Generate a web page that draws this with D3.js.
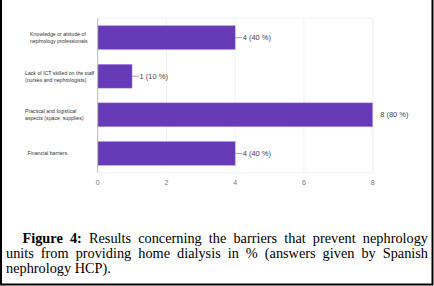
<!DOCTYPE html>
<html>
<head>
<meta charset="utf-8">
<script src="https://cdn.jsdelivr.net/npm/d3@7"></script>
<style>
  html, body { margin: 0; padding: 0; background: #fff; }
  #chart { width: 434px; height: 286px; }
</style>
</head>
<body>
<div id="chart"></div>
<script>
// categories (top to bottom), counts and percentages
const categories = [
  ["Knowledge or attitude of", "nephrology professionals"],
  ["Lack of ICT skilled on the staff", "(nurses and nephrologists)"],
  ["Practical and logistical", "aspects (space, supplies)"],
  ["Financial barriers"]
];
const counts = [4, 1, 8, 4];
const percents = [40, 10, 80, 40];
const ticks = [0, 2, 4, 6, 8];
const captionLines = [
  ["Figure 4:", " Results concerning the barriers that prevent nephrology"],
  ["", "units from providing home dialysis in % (answers given by Spanish"],
  ["", "nephrology HCP)."]
];

const W = 434, H = 286;
const svg = d3.select("#chart").append("svg")
  .attr("width", W).attr("height", H);

const x = d3.scaleLinear().domain([0, 8]).range([97.7, 372.7]);
const y = d3.scaleBand().domain(d3.range(categories.length))
  .range([18.3, 172.7]).paddingInner(0.38).paddingOuter(0.19);

const narrow = "'Liberation Sans Narrow', 'Arial Narrow', Arial, sans-serif";

// plot frame + grid
svg.append("rect")
  .attr("x", x(0)).attr("y", 18.3)
  .attr("width", x(8) - x(0)).attr("height", 172.7 - 18.3)
  .attr("fill", "none").attr("stroke", "#eef3f3").attr("stroke-width", 1);

svg.selectAll(".grid").data(ticks.slice(1)).join("line")
  .attr("x1", d => x(d)).attr("x2", d => x(d))
  .attr("y1", 18.3).attr("y2", 172.7)
  .attr("stroke", "#eef3f3").attr("stroke-width", 1);

// bars
svg.selectAll(".bar").data(counts).join("rect")
  .attr("x", x(0))
  .attr("y", (d, i) => y(i))
  .attr("width", d => x(d) - x(0))
  .attr("height", y.bandwidth())
  .attr("fill", "#673ab7")
  .attr("stroke", "#b9a3e0").attr("stroke-width", 0.5);

// zero axis line
svg.append("line")
  .attr("x1", x(0)).attr("x2", x(0))
  .attr("y1", 18.3).attr("y2", 172.7)
  .attr("stroke", "#bdbdbd").attr("stroke-width", 1);

// x tick labels
svg.selectAll(".tick").data(ticks).join("text")
  .attr("x", d => x(d)).attr("y", 185)
  .attr("text-anchor", "middle")
  .attr("font-family", narrow).attr("font-size", 7)
  .attr("fill", "#777")
  .text(d => d);

// value labels with leader lines
counts.forEach((d, i) => {
  const cy = y(i) + y.bandwidth() / 2;
  const long = d === 8;
  if (!long) {
    svg.append("line")
      .attr("x1", x(d)).attr("x2", x(d) + 7)
      .attr("y1", cy).attr("y2", cy)
      .attr("stroke", "#666").attr("stroke-width", 0.6);
  }
  svg.append("text")
    .attr("x", long ? x(d) + 7.5 : x(d) + 7.5)
    .attr("y", cy + 2.5)
    .attr("font-family", narrow).attr("font-size", 7.5)
    .attr("fill", "#444")
    .text(`${d} (${percents[i]} %)`);
});

// category labels
const labelX = [30, 25, 25, 27.5];
categories.forEach((lines, i) => {
  const cy = y(i) + y.bandwidth() / 2;
  const t = svg.append("text")
    .attr("font-family", "'Liberation Sans', Arial, sans-serif")
    .attr("font-size", 5.2).attr("fill", "#333");
  lines.forEach((s, j) => {
    t.append("tspan")
      .attr("x", labelX[i])
      .attr("y", cy + 2 + (j - (lines.length - 1) / 2) * 7)
      .text(s);
  });
});

// caption, justified
const capLeft = 6, capRight = 428;
const baseY = [243, 258, 273];
captionLines.forEach((parts, i) => {
  const startX = i === 0 ? 22.5 : capLeft;
  const t = svg.append("text")
    .attr("x", startX).attr("y", baseY[i])
    .attr("font-family", "'Liberation Serif', 'Times New Roman', serif")
    .attr("font-size", 14.3).attr("fill", "#000")
    .attr("xml:space", "preserve");
  if (parts[0]) t.append("tspan").attr("font-weight", "bold").text(parts[0]);
  t.append("tspan").text(parts[1]);
  if (i < captionLines.length - 1) {
    const natural = t.node().getComputedTextLength();
    const full = parts[0] + parts[1];
    const spaces = (full.match(/ /g) || []).length;
    const extra = (capRight - startX - natural) / spaces;
    t.attr("word-spacing", extra);
  }
});

// border (left, right, bottom)
svg.append("path")
  .attr("d", `M1,0 V${H - 1.5} H${W - 1.5} V0`)
  .attr("fill", "none").attr("stroke", "#000").attr("stroke-width", 2);
</script>
</body>
</html>
